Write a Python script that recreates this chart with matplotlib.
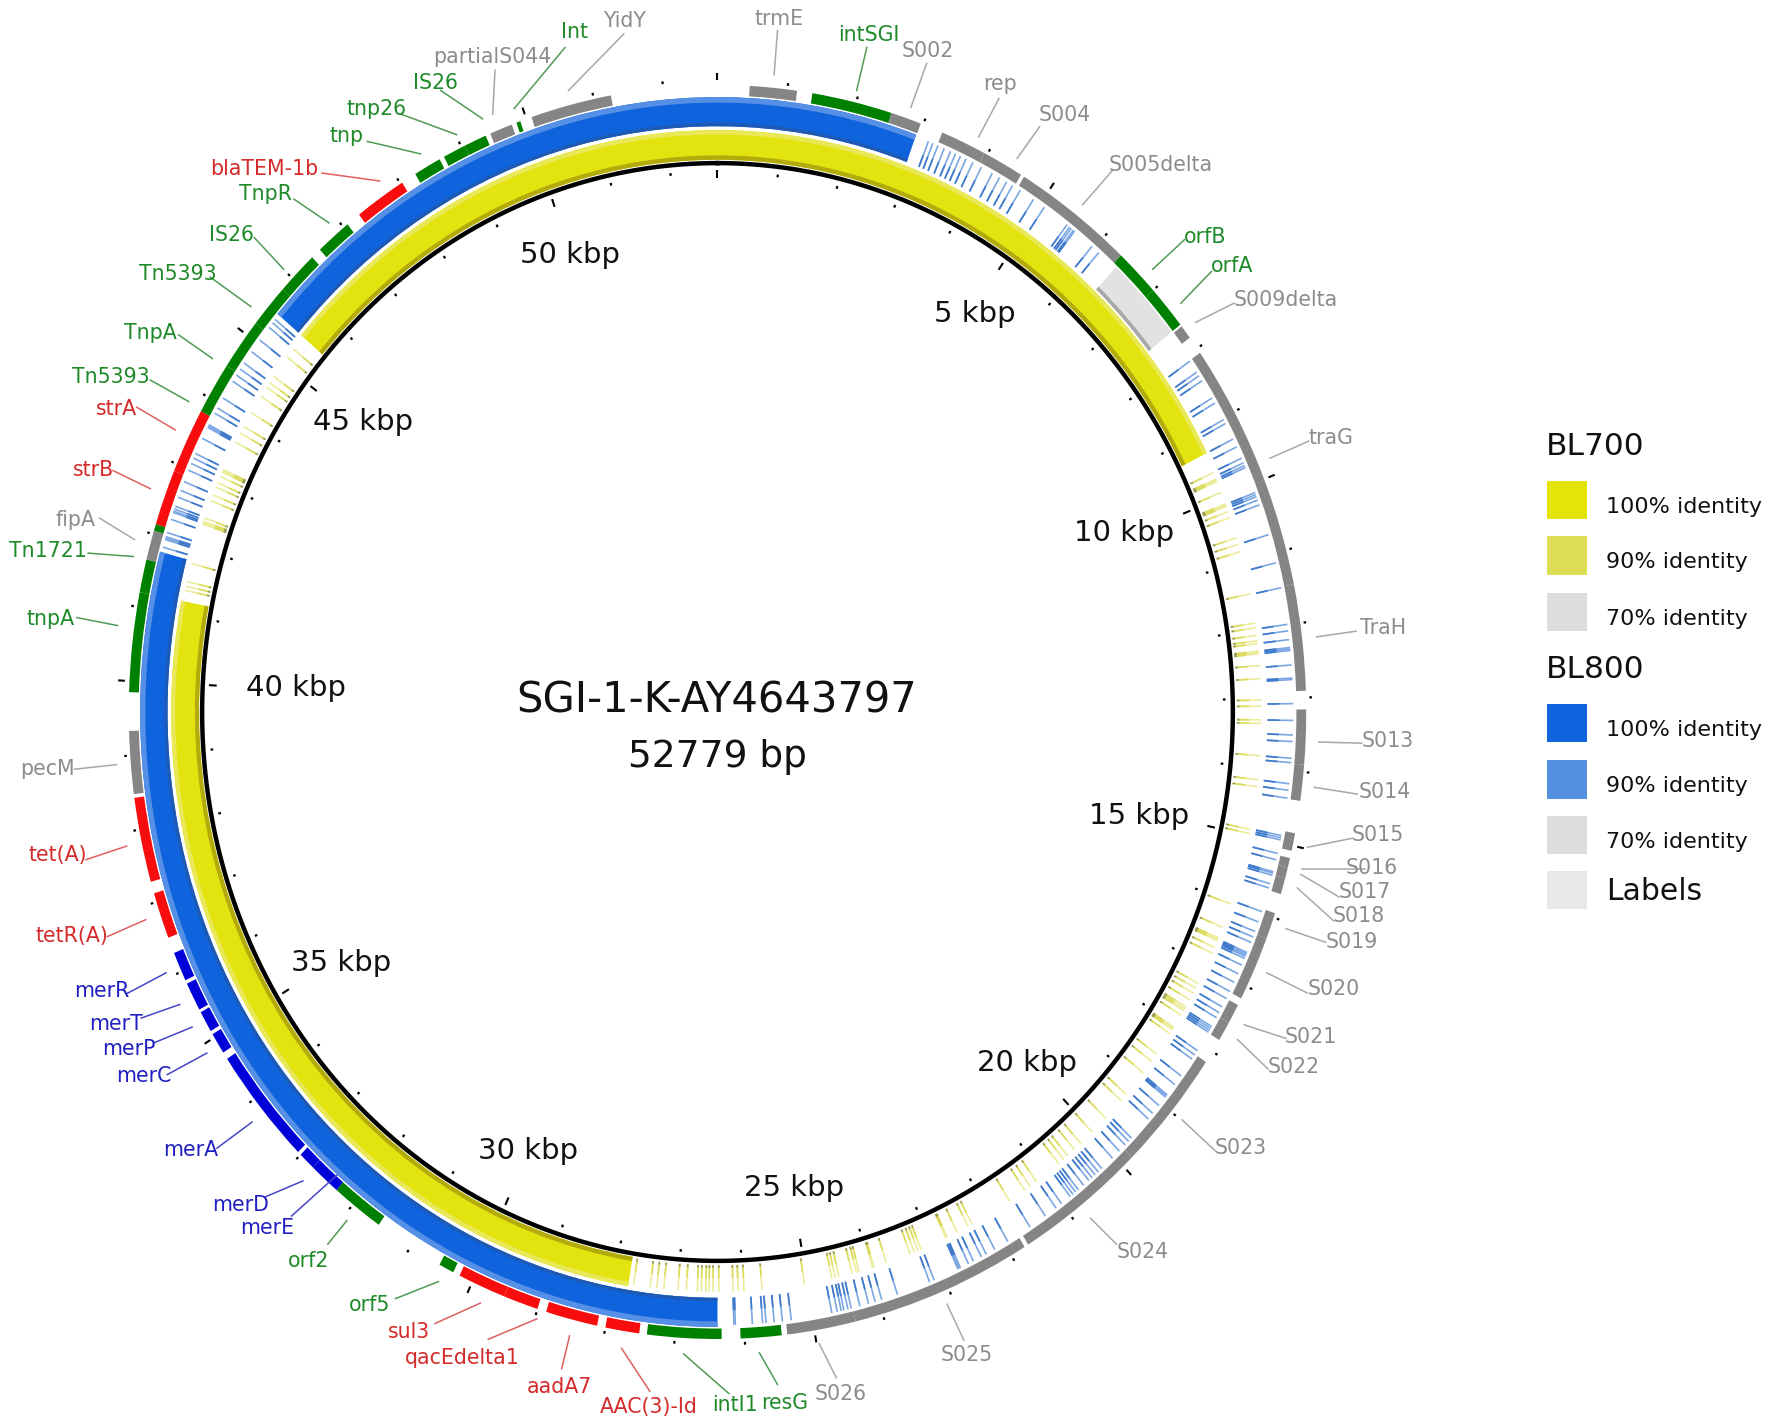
import numpy as np
import matplotlib
matplotlib.use("Agg")
import matplotlib.pyplot as plt
from matplotlib.patches import Rectangle

GENOME_KB = 52.779

# annotated features, positions in kbp
gene_names = ["trmE", "intSGI", "S002", "rep", "S004", "S005delta", "orfB", "orfA", "S009delta",
              "traG", "TraH", "S013", "S014", "S015", "S016", "S017", "S018", "S019", "S020",
              "S021", "S022", "S023", "S024", "S025", "S026", "resG", "intI1", "AAC(3)-Id",
              "aadA7", "qacEdelta1", "sul3", "orf5", "orf2", "merE", "merD", "merA", "merC",
              "merP", "merT", "merR", "tetR(A)", "tet(A)", "pecM", "tnpA", "Tn1721", "fipA",
              "strB", "strA", "Tn5393", "TnpA", "Tn5393", "IS26", "TnpR", "blaTEM-1b", "tnp",
              "tnp26", "IS26", "partialS044", "Int", "YidY"]
gene_start = [0.46, 1.36, 2.52, 3.29, 3.95, 4.60, 6.34, 7.00, 7.63,
              8.07, 11.47, 13.16, 13.90, 14.83, 15.17, 15.30, 15.45, 15.94, 16.30,
              17.28, 17.55, 18.17, 19.83, 21.78, 24.40, 25.47, 26.33, 27.51,
              28.12, 29.00, 29.50, 30.30, 31.54, 32.30, 32.75, 33.05, 34.76,
              35.10, 35.43, 35.87, 36.49, 37.28, 38.48, 39.85, 41.20, 41.65,
              42.14, 42.90, 43.79, 44.50, 45.20, 45.80, 46.55, 47.28, 48.25,
              48.72, 49.05, 49.45, 49.85, 50.08]
gene_end = [1.14, 2.52, 2.96, 3.95, 4.55, 6.34, 7.00, 7.60, 7.82,
            11.47, 12.91, 13.90, 14.39, 15.07, 15.30, 15.45, 15.67, 16.30, 17.18,
            17.55, 17.82, 19.83, 21.72, 24.40, 25.39, 26.06, 27.40, 28.00,
            28.87, 29.50, 30.20, 30.52, 32.30, 32.75, 33.00, 34.66, 35.05,
            35.39, 35.82, 36.27, 37.12, 38.43, 39.33, 41.20, 41.65, 42.05,
            42.90, 43.79, 44.50, 45.20, 45.80, 46.40, 47.07, 48.03, 48.65,
            49.05, 49.38, 49.78, 49.91, 51.25]
gene_kind = ["g", "n", "g", "g", "g", "g", "n", "n", "g",
             "g", "g", "g", "g", "g", "g", "g", "g", "g", "g",
             "g", "g", "g", "g", "g", "g", "n", "n", "r",
             "r", "r", "r", "n", "n", "b", "b", "b", "b",
             "b", "b", "b", "r", "r", "g", "n", "n", "g",
             "r", "r", "n", "n", "n", "n", "n", "r", "n",
             "n", "n", "g", "n", "g"]

# small green stub between fipA and strB
stub_span = (42.05, 42.14)

blue_spans = [(26.39, 41.80), (45.50, 55.73)]
yellow_spans = [(27.77, 41.20), (45.50, 62.10)]
gray_patch = (6.40, 7.60)

blue_hits = [3.15, 3.22, 3.30, 3.40, 3.50, 3.58, 3.66, 3.75, 3.86, 4.00, 4.18, 4.30, 4.42, 4.52, 4.65,
             4.88, 5.07, 5.48, 5.53, 5.56, 5.60, 5.62, 5.95, 6.08,
             8.08, 8.26, 8.32, 8.40, 8.68, 8.76, 9.02, 9.08, 9.32, 9.44, 9.61, 9.68, 9.72, 9.75,
             10.12, 10.15, 10.18, 10.23, 10.30, 10.73, 11.13, 11.48, 11.99, 12.08, 12.20,
             12.31, 12.33, 12.35, 12.55, 12.73, 12.75, 13.08, 13.31, 13.51, 13.60, 13.83, 13.89,
             14.18, 14.27, 14.38, 14.90, 14.93, 14.96, 15.15, 15.24, 15.41, 15.43, 15.46, 15.58, 15.64,
             15.98, 16.13, 16.27, 16.35, 16.43, 16.58, 16.60, 16.62, 16.64, 16.67, 16.77, 16.90, 17.03,
             17.17, 17.28, 17.41, 17.50, 17.58, 17.72, 17.75, 17.78, 17.81, 18.11, 18.18, 18.25,
             18.53, 18.68, 18.86, 18.88, 18.90, 19.05, 19.19, 19.29, 19.65, 19.71, 19.78, 19.90, 20.04,
             20.25, 20.32, 20.38, 20.44, 20.50, 20.60, 20.70, 20.75, 20.80, 20.85, 21.01, 21.11, 21.30,
             21.57, 21.95, 22.17, 22.31, 22.39, 22.52, 22.60, 22.73, 22.75, 22.77, 23.15, 23.22,
             23.72, 23.96, 24.06, 24.16, 24.29, 24.42, 24.47, 24.53, 24.57, 24.63, 24.71,
             25.31, 25.44, 25.56, 25.68, 25.73, 25.88, 26.13, 26.15,
             41.87, 41.98, 42.00, 42.02, 42.08, 42.27, 42.37, 42.39, 42.42, 42.46, 42.59, 42.69, 42.82,
             42.99, 43.09, 43.17, 43.24, 43.47, 43.64, 43.66, 43.68, 43.86, 43.94, 44.10, 44.37, 44.47,
             44.57, 44.67, 44.86, 45.06, 45.28, 45.36, 45.42]

yellow_hits = [9.62, 9.72, 9.74, 9.76, 9.93, 10.11, 10.13, 10.15, 10.23, 10.32, 10.63, 10.73, 10.84, 11.47,
               11.90, 11.97, 12.08, 12.16, 12.20, 12.31, 12.33, 12.35, 12.52, 12.71, 13.02, 13.11, 13.31,
               13.36, 13.83, 14.18, 14.28, 14.91, 14.97, 16.03, 16.39, 16.56, 16.58, 16.60, 16.71, 16.80,
               17.29, 17.37, 17.45, 17.56, 17.68, 17.71, 17.74, 17.82, 18.03, 18.05, 18.07, 18.14, 18.50,
               18.63, 18.84, 19.25, 19.37, 19.72, 20.01, 20.25, 20.38, 20.52, 20.60, 20.70, 21.13, 21.25,
               21.35, 21.63, 22.30, 22.37, 22.56, 22.73, 22.75, 23.17, 23.22, 23.28, 23.35, 23.74, 23.94,
               23.96, 24.18, 24.22, 24.29, 24.50, 24.56, 24.61, 25.04, 25.70, 25.98, 26.07, 26.15, 26.37,
               26.46, 26.52, 26.57, 26.64, 26.70, 26.87, 27.00, 27.22, 27.33, 27.43, 27.69, 41.36, 41.42,
               41.49, 41.76, 42.36, 42.38, 42.40, 42.45, 42.72, 42.81, 42.93, 43.00, 43.10, 43.17, 43.19,
               43.21, 43.65, 43.80, 43.91, 44.14, 44.42, 44.58, 44.66, 44.77, 45.12, 45.27]

tick_kb = list(range(0, 53))

scale_labels = ["5 kbp", "10 kbp", "15 kbp", "20 kbp", "25 kbp", "30 kbp", "35 kbp", "40 kbp", "45 kbp", "50 kbp"]

legend_titles = ["BL700", "BL800"]
legend_labels = ["100% identity", "90% identity", "70% identity",
                 "100% identity", "90% identity", "70% identity", "Labels"]

# layout, in the pixel grid of the picture as viewed (1568 x 1258)
label_xy = [(689, 15), (769, 29), (821, 44), (885, 73), (942, 100), (1027, 144), (1066, 208), (1090, 234),
            (1138, 264), (1178, 386), (1224, 554), (1228, 654), (1225, 699), (1219, 737), (1214, 766),
            (1208, 787), (1202, 808), (1196, 831), (1180, 873), (1160, 915), (1145, 942), (1098, 1013),
            (1011, 1105), (855, 1196), (744, 1231), (694, 1239), (650, 1241), (574, 1242), (495, 1225),
            (409, 1199), (362, 1176), (327, 1152), (273, 1113), (236, 1084), (213, 1064), (169, 1015),
            (127, 950), (114, 926), (103, 904), (90, 875), (64, 826), (51, 754), (42, 678), (45, 546),
            (42, 486), (67, 458), (83, 414), (103, 360), (98, 332), (133, 293), (157, 241), (205, 206),
            (235, 170), (234, 148), (307, 119), (333, 95), (385, 72), (436, 49), (508, 27), (553, 17)]
leader_xy = [(688, 27, 685, 66), (767, 42, 758, 80), (820, 56, 806, 95), (884, 87, 866, 121), (920, 112, 900, 140),
             (985, 150, 958, 181), (1048, 212, 1020, 238), (1072, 240, 1045, 268), (1092, 268, 1058, 285),
             (1158, 390, 1124, 405), (1200, 558, 1165, 563), (1205, 657, 1167, 656), (1201, 702, 1163, 696),
             (1197, 741, 1157, 749), (1208, 768, 1152, 768), (1185, 793, 1151, 773), (1180, 814, 1148, 785),
             (1173, 833, 1138, 821), (1157, 878, 1121, 860), (1138, 918, 1101, 906), (1122, 945, 1095, 919),
             (1076, 1018, 1046, 990), (988, 1100, 965, 1077), (853, 1185, 838, 1153), (740, 1218, 725, 1188),
             (688, 1224, 672, 1196), (645, 1232, 605, 1197), (575, 1230, 550, 1192), (497, 1210, 504, 1181),
             (432, 1184, 475, 1166), (385, 1170, 425, 1152), (350, 1148, 388, 1133), (290, 1100, 307, 1079),
             (258, 1075, 298, 1039), (235, 1058, 268, 1044), (192, 1015, 223, 992), (148, 950, 183, 931),
             (136, 922, 170, 908), (125, 900, 159, 888), (113, 878, 147, 860), (95, 828, 129, 813),
             (76, 760, 112, 748), (66, 680, 103, 676), (68, 546, 104, 553), (78, 489, 118, 492),
             (88, 458, 119, 477), (100, 416, 133, 432), (121, 360, 155, 380), (133, 336, 167, 355),
             (158, 296, 188, 317), (186, 245, 222, 271), (225, 210, 251, 238), (260, 176, 291, 197),
             (285, 153, 336, 160), (325, 125, 372, 136), (355, 101, 404, 119), (390, 80, 427, 105),
             (438, 62, 436, 101), (500, 42, 455, 96), (552, 30, 503, 80)]
scale_xy = [(863, 276), (995, 470), (1008, 720), (909, 938), (703, 1049), (467, 1016), (302, 850), (262, 607),
            (321, 372), (504, 224)]

bar_color = {"g": "#858585", "n": "#008000", "r": "#f70d0d", "b": "#0000d8"}
text_color = {"g": "#8c8c8c", "n": "#1f8a2a", "r": "#d42a2a", "b": "#2020c0"}
line_color = {"g": "#a8a8a8", "n": "#4f9a55", "r": "#dd6060", "b": "#4545c8"}


def to_rad(kb):
    return np.asarray(kb) / GENOME_KB * 2 * np.pi


def ring(ax, start, end, r0, r1, color):
    mid = to_rad((start + end) / 2)
    ax.bar(mid, r1 - r0, width=to_rad(end - start), bottom=r0, color=color, linewidth=0)


W, H = 1772, 1423
fig = plt.figure(figsize=(W / 100, H / 100), dpi=100, facecolor="white")

# the source picture is stretched a bit, so polar axes is not kept round
rmax = 1.2
rx, ry = 516.4, 550.0
cx, cy = 717.5, 712.0
ax = fig.add_axes([(cx - rmax * rx) / W, (H - cy - rmax * ry) / H, 2 * rmax * rx / W, 2 * rmax * ry / H],
                  projection="polar")
ax.set_aspect("auto")
ax.set_theta_zero_location("N")
ax.set_theta_direction(-1)
ax.set_rlim(0, rmax)
ax.axis("off")

# BL800 ring
for s, e in blue_spans:
    ring(ax, s, e, 1.065, 1.118, "#0f63dc")
    ring(ax, s, e, 1.108, 1.118, "#5590e6")
    ring(ax, s, e, 1.065, 1.071, "#1e5ab4")
# BL700 ring
for s, e in yellow_spans:
    ring(ax, s, e, 1.004, 1.058, "#e3e30f")
    ring(ax, s, e, 1.050, 1.058, "#e8e858")
    ring(ax, s, e, 1.004, 1.012, "#b3aa0c")

ring(ax, gray_patch[0], gray_patch[1], 1.062, 1.118, "#e2e2e2")
ring(ax, gray_patch[0], gray_patch[1], 1.062, 1.069, "#a8a8a8")

# partial hits
t_blue = to_rad(blue_hits)
ax.vlines(t_blue, 1.065, 1.115, color="#7aa7e4", linewidth=1.2)
ax.vlines(t_blue, 1.065, 1.088, color="#3f7acb", linewidth=1.2)
t_yel = to_rad(yellow_hits)
ax.vlines(t_yel, 1.006, 1.054, color="#ecec9a", linewidth=1.2)
ax.vlines(t_yel, 1.006, 1.030, color="#dcdc60", linewidth=1.2)
ax.vlines(t_yel, 1.006, 1.011, color="#9a9a60", linewidth=1.2)

# black backbone
ax.plot(np.linspace(0, 2 * np.pi, 721), np.ones(721) * 0.998, color="black", linewidth=3.2)

# feature ring
for s, e, k in zip(gene_start, gene_end, gene_kind):
    ring(ax, s, e, 1.121, 1.140, bar_color[k])
ring(ax, stub_span[0], stub_span[1], 1.121, 1.140, bar_color["n"])

# ticks
for kb in tick_kb:
    t = to_rad(kb)
    if kb % 5 == 0:
        ax.plot([t, t], [1.149, 1.162], color="black", linewidth=1.5, solid_capstyle="butt")
        ax.plot([t, t], [0.971, 0.986], color="black", linewidth=1.5, solid_capstyle="butt")
    else:
        ax.plot([t, t], [1.1465, 1.1515], color="black", linewidth=1.6, solid_capstyle="butt")
        ax.plot([t, t], [0.979, 0.984], color="black", linewidth=1.6, solid_capstyle="butt")

# overlay for text, leaders and legend
ov = fig.add_axes([0, 0, 1, 1], facecolor="none")
ov.set_xlim(0, 1568)
ov.set_ylim(1258, 0)
ov.axis("off")

for name, k, (x, y), (x1, y1, x2, y2) in zip(gene_names, gene_kind, label_xy, leader_xy):
    ov.plot([x1, x2], [y1, y2], color=line_color[k], linewidth=1.1)
    ov.text(x, y + 1.5, name, color=text_color[k], fontsize=14.8, ha="center", va="center")

for name, (x, y) in zip(scale_labels, scale_xy):
    ov.text(x, y + 1.5, name, color="#111111", fontsize=21, ha="center", va="center")

ov.text(634, 619, "SGI-1-K-AY4643797", color="#111111", fontsize=30, ha="center", va="center")
ov.text(635, 669, "52779 bp", color="#111111", fontsize=27, ha="center", va="center")

# legend
ov.text(1368, 394.5, legend_titles[0], color="#111111", fontsize=22.5, ha="left", va="center")
ov.text(1368, 591.5, legend_titles[1], color="#111111", fontsize=22.5, ha="left", va="center")
swatch_y = [425, 474, 524, 622, 672, 721, 770]
swatch_c = ["#e4e40a", "#dede55", "#dddddd", "#0f63dc", "#5590e0", "#dddddd", "#e8e8e8"]
for lab, y, c in zip(legend_labels, swatch_y, swatch_c):
    ov.add_patch(Rectangle((1369, y), 35, 34, facecolor=c, edgecolor="none"))
    if lab == "Labels":
        ov.text(1421, y + 18.5, lab, color="#111111", fontsize=21.5, ha="left", va="center")
    else:
        ov.text(1421, y + 23, lab, color="#111111", fontsize=16, ha="left", va="center")

fig.savefig("out.png", dpi=100, facecolor="white")
